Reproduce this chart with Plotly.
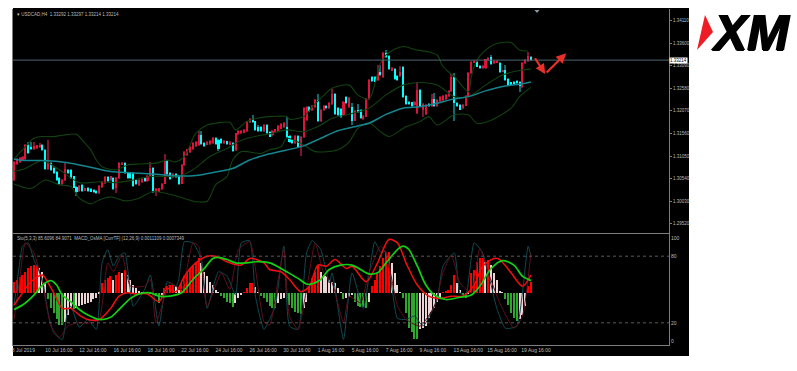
import plotly.graph_objects as go

# Candle values, in pips above 1.3000
opens = [52,87,91,96,98,130,126,121,124,126,130,119,76,89,79,70,55,41,51,74,
 74,59,36,27,40,28,32,30,28,27,22,36,45,57,51,55,32,55,87,90,
 68,67,67,51,40,47,56,49,60,79,23,25,30,43,93,66,57,65,60,43,
 85,107,115,121,128,130,152,134,131,132,134,145,141,143,134,138,131,134,119,155,
 156,158,162,181,189,183,171,170,161,175,160,152,158,161,167,170,171,150,141,135,
 151,126,147,186,216,209,216,231,183,209,219,214,222,245,213,211,198,239,216,216,
 185,210,209,188,194,233,283,284,277,294,284,338,331,299,301,286,286,307,240,228,
 226,220,201,254,209,200,222,218,233,218,230,231,234,240,252,283,225,220,213,219,
 240,292,316,318,308,304,303,322,328,314,316,316,296,299,278,271,272,274,273,260,
 314,320,329]
closes = [92,98,100,102,131,113,120,128,129,131,119,75,89,74,67,51,42,51,75,66,
 56,34,25,37,27,32,26,26,23,21,37,47,57,49,59,31,56,89,90,67,
 55,55,38,41,51,53,49,61,77,23,30,32,43,93,64,53,64,58,42,85,
 115,120,126,135,137,152,132,128,136,139,145,132,122,134,140,132,136,117,156,162,
 162,164,183,189,181,164,162,161,176,156,149,161,165,173,177,180,147,137,134,150,
 125,149,213,215,207,218,231,183,209,218,213,224,245,199,198,192,228,224,237,183,
 207,205,190,196,234,277,275,273,295,288,337,329,301,303,278,277,295,239,222,222,
 218,228,254,218,222,220,218,233,218,231,239,240,243,252,283,224,218,210,220,240,
 292,318,318,307,303,308,323,325,312,320,319,295,298,277,264,267,269,269,262,316,
 322,331,321]
highs = [94,100,102,105,133,136,137,137,131,134,133,121,141,92,82,72,57,53,89,76,
 76,61,38,40,42,34,35,32,30,29,39,49,60,59,61,57,58,92,92,92,
 70,69,69,53,53,55,58,63,92,81,32,34,45,109,95,68,66,67,62,87,
 117,122,128,137,139,162,162,136,138,141,147,147,143,145,142,140,138,136,158,164,
 164,166,185,191,198,185,174,172,178,177,162,163,167,175,179,182,192,152,143,152,
 153,151,215,217,218,220,233,246,211,220,221,226,257,247,215,213,230,241,239,225,
 209,222,211,198,236,279,285,286,310,310,339,344,333,305,303,288,309,309,242,230,
 228,230,272,256,224,222,224,245,247,233,241,242,245,254,289,292,227,222,222,242,
 294,320,322,320,310,310,325,329,332,322,321,318,300,310,280,273,274,276,275,318,
 324,340,331]
lows = [48,85,89,94,96,110,118,119,122,124,116,73,74,72,65,49,40,39,49,64,
 54,32,15,25,25,26,24,24,21,19,20,34,43,47,49,28,21,53,85,65,
 53,53,36,39,38,45,47,47,58,21,14,23,28,41,62,51,55,56,40,41,
 83,105,113,119,126,128,130,126,129,130,132,130,117,132,132,130,129,115,117,153,
 154,156,160,179,179,162,160,159,159,154,147,150,156,159,165,168,145,135,132,133,
 123,104,145,184,205,207,214,181,181,207,211,212,220,197,196,190,196,222,214,176,
 183,203,188,186,192,231,273,271,275,286,282,327,299,297,276,275,284,237,220,220,
 216,218,199,216,194,198,216,216,216,216,228,229,232,238,250,183,216,208,211,217,
 238,290,314,305,301,302,301,320,310,312,314,293,294,275,262,265,267,267,250,258,
 312,318,319]

ma_i = [0,4,10,19,26,34,42,50,58,64,71,77,83,90,102,108,114,121,125,131,137,143,149,155,160,166,172,178,182]
ma_v = [98,95,95,90,81,70,67,64,60,61,69,77,96,110,128,145,162,173,179,199,213,216,224,234,239,252,262,267,272]

bb_up_i = [0,4,7,10,14,17,22,24,27,29,31,36,40,44,50,54,57,60,64,68,71,76,78,82,87,90,96,97,102,105,108,112,118,121,125,129,131,134,137,142,146,149,151,155,160,161,163,166,170,175,178,181]
bb_up_v = [98,126,145,149,149,152,154,141,119,96,81,74,85,87,89,96,92,104,156,175,179,181,164,183,192,194,194,188,194,216,235,258,265,243,234,314,333,346,352,344,340,333,307,284,250,284,322,344,359,361,344,342]

bb_mid_i = [0,4,10,16,23,30,36,42,48,54,58,63,69,75,78,82,87,90,96,102,108,112,119,125,131,137,143,149,155,160,166,172,178,182]
bb_mid_v = [70,77,95,74,45,47,45,51,59,59,60,74,104,122,134,145,152,155,164,160,175,190,201,213,243,265,271,265,239,239,265,288,298,301]

bb_lo_i = [0,6,11,16,20,23,27,30,34,39,44,49,56,64,68,71,75,77,80,87,90,94,96,102,106,114,118,121,125,129,132,138,143,146,149,155,160,163,168,175,178,182]
bb_lo_v = [42,32,51,40,36,10,-3,6,13,4,10,25,17,2,3,40,59,96,115,111,119,126,145,130,115,119,137,167,180,160,149,171,183,194,175,198,198,179,186,213,239,260]

osma = [10,12,14,16,19,22,24,25,25,22,19,9,-6,-14,-18,-24,-29,-29,-26,-20,
 -15,-15,-14,-12,-11,-10,-9,-8,-6,-5,-0.3,9,12,13,15,12,16,19,18,21,
 16,12,7,4,1,0.5,0.4,0.6,-1,-2,-3,-9,-2,4,6,7,7,6,3,9,
 15,19,22,25,28,31,27,19,15,10,7,3,0.5,-3,-5,-8,-9,-13,-9,-5,
 -2,0.3,4,9,9,5,0.1,-3,-5,-8,-12,-14,-14,-9,-6,-5,-6,-11,-14,-17,
 -18,-19,-14,-8,6,13,19,25,19,16,15,12,10,9,4,0.1,-6,-5,-4,-2,
 -8,-12,-13,-13,-14,-8,6,12,18,24,31,37,37,27,18,7,0.1,-5,-18,-32,
 -35,-42,-42,-33,-32,-30,-23,-17,-14,-8,-5,0.1,1,3,7,16,9,3,-2,-5,
 -0.2,18,21,28,31,31,28,30,25,18,12,1,0.1,-6,-11,-18,-23,-25,-24,-20,
 -12,6,10]

sig_i = [0,3,7,10,13,15,17,20,23,26,30,34,37,41,44,48,51,55,59,63,67,70,72,75,78,82,85,90,94,96,100,103,105,108,111,115,119,122,125,128,131,135,137,139,142,145,148,152,157,161,164,168,172,176,179,182]
sig_v = [32,36,45,54,58,54,45,39,32,27,23,25,32,42,46,47,44,44,47,59,69,78,79,77,74,74,75,74,69,66,60,55,55,59,68,72,72,68,64,65,74,86,89,86,71,54,45,41,43,45,53,69,76,72,62,58]

red_i = [0,3,6,10,12,14,17,20,23,26,30,34,37,40,43,47,51,54,57,60,64,68,71,75,80,83,88,90,94,97,101,104,107,110,113,117,119,124,128,132,135,138,142,146,150,154,158,162,165,169,171,175,179,182]
red_v = [36,47,57,63,56,47,33,33,27,23,23,33,44,47,46,46,39,51,48,62,74,80,80,75,72,78,74,68,66,59,48,53,72,71,77,69,71,57,74,95,92,74,54,44,42,44,44,54,71,78,77,65,53,63]

sto_i = [0,2,3,5,7,10,12,14,17,19,20,23,26,29,31,33,35,37,39,42,46,48,51,54,57,58,60,63,66,68,72,75,78,80,83,85,88,90,92,95,97,100,103,105,108,111,112,116,119,123,127,129,131,135,138,141,144,149,151,155,157,159,162,165,170,173,177,179,181,182]
sto_v = [35,74,89,92,77,59,29,11,5,32,35,16,23,14,74,86,71,80,83,35,50,63,17,57,53,59,93,92,77,33,66,62,45,92,94,44,14,23,35,89,17,14,83,94,86,56,65,5,65,33,93,84,84,24,23,26,17,41,71,83,47,44,92,83,33,15,17,47,89,80]

stosig_i = [0,2,4,7,10,13,16,19,22,27,30,33,35,38,41,46,48,50,55,59,63,65,68,73,76,79,83,88,90,93,95,97,100,103,106,109,112,116,118,122,125,129,131,135,138,143,148,151,154,157,161,164,167,171,176,179,182]
stosig_v = [23,59,92,83,56,17,7,17,20,20,23,74,66,81,53,53,59,20,56,50,92,89,35,65,50,86,93,21,18,59,86,26,14,50,92,65,56,20,44,38,65,89,83,35,23,17,35,65,81,56,47,87,65,38,15,26,83]

tick_idx = [3.3,15.8,27.8,39.8,51.8,63.7,75.7,87.7,99.6,111.6,123.6,135.6,147.5,159.9,171.8,183.8]
tick_txt = ["8 Jul 2019","10 Jul 16:00","12 Jul 16:00","16 Jul 16:00","18 Jul 16:00","22 Jul 16:00",
            "24 Jul 16:00","26 Jul 16:00","30 Jul 16:00","1 Aug 16:00","5 Aug 16:00","7 Aug 16:00",
            "9 Aug 16:00","13 Aug 16:00","15 Aug 16:00","19 Aug 16:00"]
price_ticks = [1.34110,1.33600,1.33090,1.32580,1.32070,1.31560,1.31050,1.30540,1.30030,1.29520]
last_price = 1.33214

BASE = 1.3
def px(p):
    return BASE + p / 10000

n = min(len(opens), len(closes), len(highs), len(lows), len(osma))
idx = list(range(n))
o = [px(v) for v in opens[:n]]
c = [px(v) for v in closes[:n]]
h = [px(v) for v in highs[:n]]
l = [px(v) for v in lows[:n]]
up = [c[i] >= o[i] for i in idx]

fig = go.Figure()
fig.add_trace(go.Bar(x=idx, y=[h[i]-l[i] for i in idx], base=l, width=0.36,
                     marker=dict(color=["#7a1530" if u else "#0f6a70" for u in up], line_width=0),
                     xaxis="x", yaxis="y"))
fig.add_trace(go.Bar(x=idx, y=[max(abs(c[i]-o[i]), 0.0002) for i in idx],
                     base=[min(o[i], c[i]) for i in idx], width=0.72,
                     marker=dict(color=["#dc143c" if u else "#00ffff" for u in up], line_width=0),
                     xaxis="x", yaxis="y"))

def line(xs, ys, color, width, axis="y", price=True, smoothing=0.8):
    fig.add_trace(go.Scatter(x=xs, y=[px(v) for v in ys] if price else ys, mode="lines",
                             line=dict(color=color, width=width, shape="spline", smoothing=smoothing),
                             xaxis="x", yaxis=axis, hoverinfo="skip"))

line(bb_up_i, bb_up_v, "#12420f", 1.1)
line(bb_mid_i, bb_mid_v, "#12420f", 1.1)
line(bb_lo_i, bb_lo_v, "#12420f", 1.1)
line(ma_i, ma_v, "#16858f", 1.5)

def hist_color(i):
    prev = osma[i-1] if i else osma[i]
    v = osma[i]
    if v >= 0:
        return "#ff0000" if v >= prev else "#ecd5d5"
    return "#2da82d" if v <= prev else "#ecd5d5"

fig.add_trace(go.Bar(x=idx, y=osma[:n], base=47, width=0.42,
                     marker=dict(color=[hist_color(i) for i in idx], line_width=0),
                     xaxis="x", yaxis="y2"))
line(sto_i, sto_v, "#0f4a50", 1, "y2", False, 0.5)
line(stosig_i, stosig_v, "#5e0f1c", 1, "y2", False, 0.5)
line(red_i, red_v, "#ee1010", 1.5, "y2", False)
line(sig_i, sig_v, "#14d014", 1.7, "y2", False)

L, R, T, B = 13, 669, 9, 345
def X(p): return (p - L) / (R - L)
def Y(p): return (B - p) / (B - T)

shapes = [
    dict(type="rect", xref="paper", yref="paper", x0=X(13), x1=X(689), y0=Y(356), y1=Y(8),
         fillcolor="#000000", line_width=0, layer="below"),
    dict(type="line", xref="paper", yref="y", x0=0, x1=1, y0=last_price, y1=last_price,
         line=dict(color="#4f6672", width=1), layer="above"),
    dict(type="line", xref="paper", yref="y2", x0=0, x1=1, y0=80, y1=80,
         line=dict(color="#5a5a5a", width=1, dash="dot")),
    dict(type="line", xref="paper", yref="y2", x0=0, x1=1, y0=20, y1=20,
         line=dict(color="#5a5a5a", width=1, dash="dot")),
    dict(type="path", xref="paper", yref="paper", fillcolor="#8a9aa5", line_width=0,
         path=f"M{X(534.5)},{Y(10)} L{X(539.5)},{Y(10)} L{X(537)},{Y(13)} Z"),
    dict(type="path", xref="paper", yref="paper", fillcolor="#ee1c25", line_width=0,
         path=f"M{X(697)},{Y(50)} L{X(713)},{Y(32)} L{X(705)},{Y(15)} Z"),
]

TXT = "#bdbdbd"
FONT = "Liberation Sans"
annotations = [
    dict(xref="paper", yref="paper", x=X(15), y=Y(14.5), xanchor="left", yanchor="middle", showarrow=False,
         text="▾ USDCAD,H4  1.33292 1.33297 1.33214 1.33214", font=dict(family=FONT, size=4.5, color=TXT)),
    dict(xref="paper", yref="paper", x=X(15), y=Y(238), xanchor="left", yanchor="middle", showarrow=False,
         text="Sto(5,3,3) 85.6096 84.9071  MACD_OsMA [CurrTF] (12,26,9) 0.0011109 0.0007349",
         font=dict(family=FONT, size=4.5, color=TXT)),
    dict(xref="paper", yref="y", x=X(669), y=last_price, xanchor="left", yanchor="middle", showarrow=False,
         text="1.33214", bgcolor="#ffffff", borderpad=0, font=dict(family=FONT, size=4.5, color="#000000")),
    dict(xref="paper", yref="paper", x=X(750), y=Y(33), xanchor="center", yanchor="middle", showarrow=False,
         text="<b><i>XM</i></b>", font=dict(family=FONT, size=50, color="#000000",
                                            shadow="1px 0 0 #000,-1px 0 0 #000,0 1px 0 #000")),
    dict(xref="x", yref="y", axref="x", ayref="y", x=187, y=px(290), ax=183.1, ay=px(329),
         showarrow=True, arrowhead=2, arrowsize=0.9, arrowwidth=2.2, arrowcolor="#e8302a", text=""),
    dict(xref="x", yref="y", axref="x", ayref="y", x=194.4, y=px(337), ax=187, ay=px(290),
         showarrow=True, arrowhead=2, arrowsize=0.9, arrowwidth=2.2, arrowcolor="#e8302a", text=""),
]

AX = "#7d7d7d"
fig.update_layout(
    width=797, height=371, autosize=False,
    margin=dict(l=L, r=797-R, t=T, b=371-B),
    paper_bgcolor="#ffffff", plot_bgcolor="#000000",
    showlegend=False, barmode="overlay", bargap=0,
    shapes=shapes, annotations=annotations,
    font=dict(family=FONT, size=5, color=TXT),
    xaxis=dict(domain=[0, 1], range=[-0.35, 230.6], anchor="y2", tickmode="array",
               tickvals=tick_idx, ticktext=tick_txt, ticks="", showgrid=False, zeroline=False,
               showline=True, linecolor=AX, linewidth=1, mirror=True, tickangle=0,
               tickfont=dict(size=5, color=TXT)),
    yaxis=dict(domain=[(B-233)/(B-T), 1], range=[1.29314, 1.34367], side="right", anchor="x",
               tickmode="array", tickvals=price_ticks, ticktext=[f"{v:.5f}" for v in price_ticks],
               ticks="outside", ticklen=2, tickcolor=AX, showgrid=False, zeroline=False,
               showline=True, linecolor=AX, linewidth=1, mirror=True,
               tickfont=dict(size=4.5, color=TXT)),
    yaxis2=dict(domain=[0, (B-234)/(B-T)], range=[0, 100], side="right", anchor="x",
                tickmode="array", tickvals=[96.5, 80, 20, 3.5], ticktext=["100", "80", "20", "0"],
                ticks="", showgrid=False, zeroline=False, showline=True, linecolor=AX, linewidth=1,
                mirror=True, tickfont=dict(size=5, color=TXT)),
)
fig.write_html("out.html", config={"displayModeBar": False},
               post_script="document.body.style.margin='0';document.documentElement.style.overflow='hidden';")
